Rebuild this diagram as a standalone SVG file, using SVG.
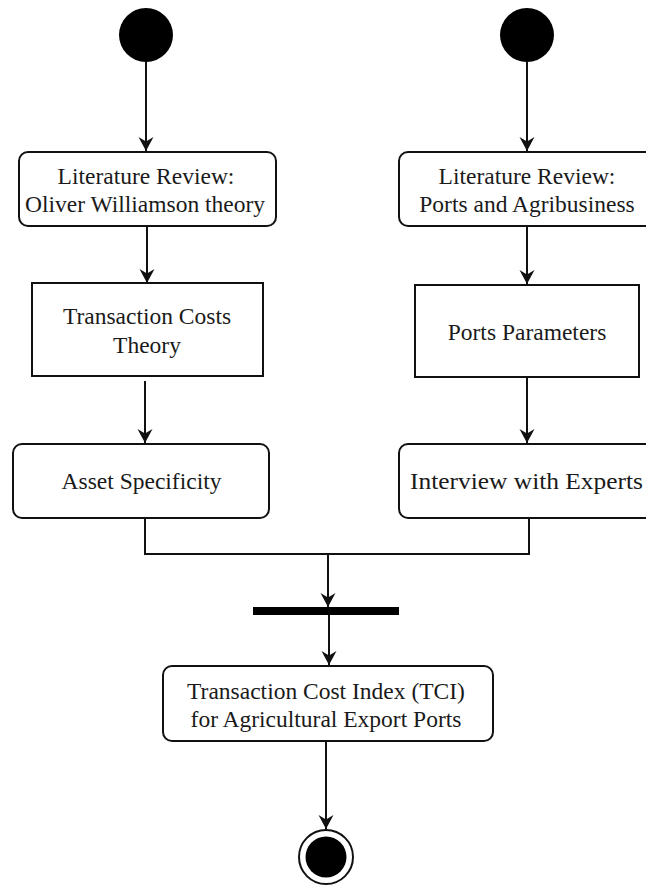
<svg xmlns="http://www.w3.org/2000/svg" width="646" height="885" viewBox="0 0 646 885">
<style>
.box{fill:#fff;stroke:#111;stroke-width:2}
.lbl{font-family:"Liberation Serif","Times New Roman",serif;font-size:23.5px;fill:#1a1a1a;text-anchor:middle}
.edge{fill:none;stroke:#111;stroke-width:2}
</style>
<defs>
<marker id="arr" markerUnits="userSpaceOnUse" markerWidth="16" markerHeight="16" viewBox="-15 -8 16 16" refX="0" refY="0" orient="auto">
<path d="M0,0 L-14,-7.5 L-9.5,0 L-14,7.5 Z" fill="#111"/>
</marker>
</defs>
<rect width="646" height="885" fill="#fff"/>
<g id="start-left"><circle cx="146" cy="35" r="27" fill="#000"/></g>
<g id="start-right"><circle cx="527" cy="35" r="27" fill="#000"/></g>
<g id="lit-williamson">
<rect class="box" x="19" y="152" width="257" height="74" rx="9"/>
<text class="lbl" x="146" y="184">Literature Review:</text>
<text class="lbl" x="145" y="212">Oliver Williamson theory</text>
</g>
<g id="lit-ports">
<rect class="box" x="399" y="152" width="258" height="74" rx="9"/>
<text class="lbl" x="527" y="184">Literature Review:</text>
<text class="lbl" x="527" y="212">Ports and Agribusiness</text>
</g>
<g id="tc-theory">
<rect class="box" x="32" y="283" width="231" height="93"/>
<text class="lbl" x="147" y="324">Transaction Costs</text>
<text class="lbl" x="147" y="353">Theory</text>
</g>
<g id="ports-params">
<rect class="box" x="415" y="285" width="224" height="92"/>
<text class="lbl" x="527" y="340">Ports Parameters</text>
</g>
<g id="asset-spec">
<rect class="box" x="13" y="444" width="256" height="74" rx="9"/>
<text class="lbl" x="141.5" y="489">Asset Specificity</text>
</g>
<g id="interview">
<rect class="box" x="399" y="444" width="258" height="74" rx="9"/>
<text class="lbl" x="526.5" y="489" textLength="233" lengthAdjust="spacingAndGlyphs">Interview with Experts</text>
</g>
<g id="join-bar"><rect x="253" y="607" width="146" height="8" fill="#000"/></g>
<g id="tci">
<rect class="box" x="163" y="666" width="330" height="75" rx="9"/>
<text class="lbl" x="326" y="699">Transaction Cost Index (TCI)</text>
<text class="lbl" x="326" y="727">for Agricultural Export Ports</text>
</g>
<g id="end">
<circle cx="326" cy="857" r="27" fill="#fff" stroke="#111" stroke-width="2"/>
<circle cx="326" cy="857" r="20.5" fill="#000"/>
</g>
<g id="connectors">
<line class="edge" x1="146" y1="62" x2="146" y2="151" marker-end="url(#arr)"/>
<line class="edge" x1="147" y1="226" x2="147" y2="283" marker-end="url(#arr)"/>
<line class="edge" x1="145" y1="381" x2="145" y2="443" marker-end="url(#arr)"/>
<line class="edge" x1="527" y1="62" x2="527" y2="151" marker-end="url(#arr)"/>
<line class="edge" x1="527" y1="226" x2="527" y2="284" marker-end="url(#arr)"/>
<line class="edge" x1="527" y1="377" x2="527" y2="443" marker-end="url(#arr)"/>
<polyline class="edge" points="145,518 145,554 529,554 529,518"/>
<line class="edge" x1="328" y1="554" x2="328" y2="607" marker-end="url(#arr)"/>
<line class="edge" x1="329" y1="615" x2="329" y2="665" marker-end="url(#arr)"/>
<line class="edge" x1="326" y1="741" x2="326" y2="829" marker-end="url(#arr)"/>
</g>
</svg>
